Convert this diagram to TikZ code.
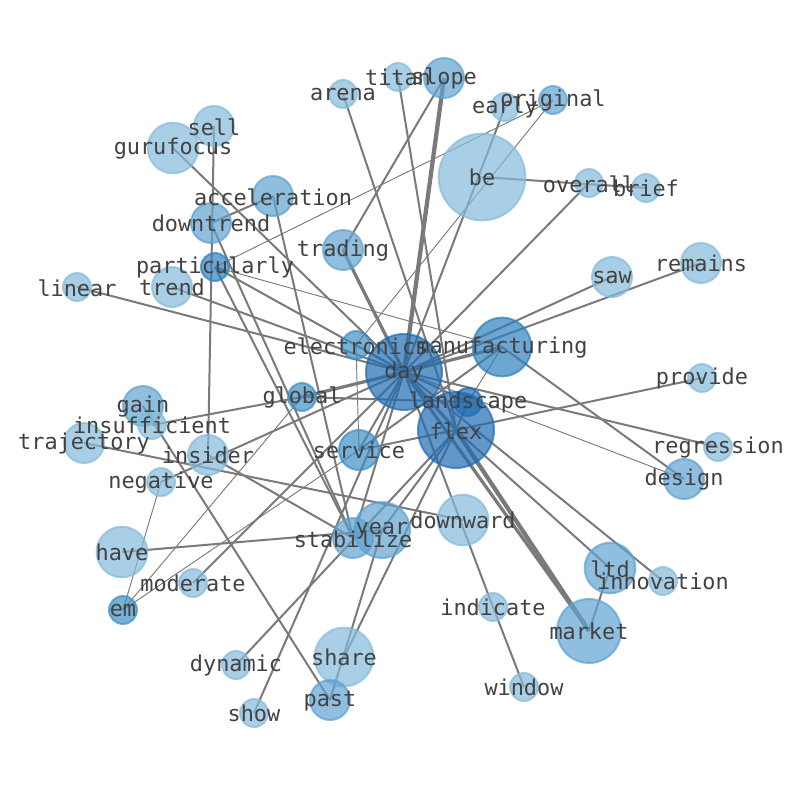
\documentclass[tikz,border=0pt]{standalone}
\usepackage{fontspec}
\setmonofont{DejaVu Sans Mono}
\definecolor{b1}{RGB}{133,186,219}
\definecolor{b2}{RGB}{95,162,208}
\definecolor{b3}{RGB}{62,142,196}
\definecolor{b4}{RGB}{45,128,189}
\definecolor{b5}{RGB}{32,108,178}
\pgfdeclarelayer{edges}
\pgfsetlayers{edges,main}

\begin{document}
\begin{tikzpicture}
  [x=.75pt,y=-.75pt,
   word/.style={circle,inner sep=0pt,line width=1.5pt,fill opacity=.7,draw opacity=.7},
   c1/.style={word,fill=b1,draw=b1},
   c2/.style={word,fill=b2,draw=b2},
   c3/.style={word,fill=b3,draw=b3},
   c4/.style={word,fill=b4,draw=b4},
   c5/.style={word,fill=b5,draw=b5},
   r14/.style={minimum size=21pt},
   r20/.style={minimum size=30pt},
   r25/.style={minimum size=38pt},
   r28/.style={minimum size=42pt},
   r29/.style={minimum size=44pt},
   r32/.style={minimum size=48pt},
   r38/.style={minimum size=57pt},
   r43/.style={minimum size=65pt},
   lbl/.style={font=\ttfamily\fontsize{16.4}{19}\selectfont,text=black!74,inner sep=0pt,yshift=-.6pt},
   link/.style={draw=black!52,line width=1.5pt},
   thin/.style={draw=black!52,line width=.7pt},
   thick/.style={draw=black!52,line width=2.4pt},
   heavy/.style={draw=black!52,line width=3.2pt}]
  \useasboundingbox (0,0) rectangle (794,790);

  \node[c1,r14] (titan) at (398,77) {};
  \node[c2,r20] (slope) at (444,78) {};
  \node[c1,r14] (arena) at (343,94) {};
  \node[c1,r14] (early) at (505,107) {};
  \node[c2,r14] (original) at (553,100) {};
  \node[c1,r20] (sell) at (214,126) {};
  \node[c1,r25] (gurufocus) at (173,148) {};
  \node[c1,r43] (be) at (482,177) {};
  \node[c1,r14] (overall) at (589,183) {};
  \node[c1,r14] (brief) at (646,188) {};
  \node[c2,r20] (acceleration) at (273,196) {};
  \node[c2,r20] (downtrend) at (211,223) {};
  \node[c2,r20] (trading) at (343,250) {};
  \node[c4,r14] (particularly) at (215,267) {};
  \node[c1,r14] (linear) at (77,287) {};
  \node[c1,r20] (trend) at (172,287) {};
  \node[c1,r20] (saw) at (612,277) {};
  \node[c1,r20] (remains) at (701,263) {};
  \node[c3,r14] (electronics) at (356,345) {};
  \node[c5,r38] (day) at (404,372) {};
  \node[c4,r29] (manufacturing) at (502,347) {};
  \node[c3,r14] (global) at (302,397) {};
  \node[c1,r14] (provide) at (702,378) {};
  \node[c5,r38] (flex) at (456,430) {};
  \node[c5,r14] (landscape) at (468,402) {};
  \node[c2,r20] (gain) at (143,406) {};
  \node[c1,r14] (insufficient) at (152,425) {};
  \node[c1,r20] (trajectory) at (84,443) {};
  \node[c1,r20] (insider) at (208,455) {};
  \node[c3,r20] (service) at (359,450) {};
  \node[c1,r14] (regression) at (718,447) {};
  \node[c2,r20] (design) at (684,479) {};
  \node[c1,r14] (negative) at (161,482) {};
  \node[c1,r25] (downward) at (463,520) {};
  \node[c2,r20] (stabilize) at (353,538) {};
  \node[c2,r28] (year) at (382,530) {};
  \node[c1,r25] (have) at (122,552) {};
  \node[c2,r25] (ltd) at (610,568) {};
  \node[c1,r14] (innovation) at (663,581) {};
  \node[c1,r14] (moderate) at (193,583) {};
  \node[c3,r14] (em) at (123,610) {};
  \node[c1,r14] (indicate) at (493,607) {};
  \node[c2,r32] (market) at (589,631) {};
  \node[c1,r29] (share) at (344,657) {};
  \node[c1,r14] (dynamic) at (236,665) {};
  \node[c2,r20] (past) at (330,700) {};
  \node[c1,r14] (window) at (524,687) {};
  \node[c1,r14] (show) at (254,713) {};

  \begin{pgfonlayer}{edges}
  \foreach \from/\to in {be/brief,overall/day,saw/day,remains/day,provide/flex,
      regression/day,manufacturing/design,titan/flex,arena/flex,slope/trading,
      early/day,sell/insider,gurufocus/day,acceleration/stabilize,
      acceleration/downtrend,downtrend/stabilize,particularly/stabilize,
      linear/day,trend/day,insufficient/global,trajectory/downward,
      insider/stabilize,negative/day,have/year,moderate/day,dynamic/flex,
      show/day,gain/past,past/year,share/flex,day/indicate,indicate/window,
      ltd/market,flex/ltd,day/innovation,electronics/day,service/day,
      service/flex,manufacturing/service,year/flex,stabilize/day,
      particularly/day,landscape/day,landscape/flex,global/landscape}
    \draw[link] (\from.center) -- (\to.center);
  \foreach \from/\to in {original/particularly,original/electronics,
      particularly/manufacturing,day/design,em/negative,em/global,em/service,
      electronics/service,manufacturing/landscape,particularly/electronics}
    \draw[thin] (\from.center) -- (\to.center);
  \foreach \from/\to in {trading/day,global/day,manufacturing/day,day/market,day/flex}
    \draw[thick] (\from.center) -- (\to.center);
  \foreach \from/\to in {slope/day,flex/market}
    \draw[heavy] (\from.center) -- (\to.center);
  \end{pgfonlayer}

  \foreach \w in {titan,slope,arena,early,original,sell,gurufocus,be,overall,
      brief,acceleration,downtrend,trading,particularly,linear,trend,saw,
      remains,electronics,day,manufacturing,global,provide,flex,landscape,
      gain,insufficient,trajectory,insider,service,regression,design,negative,
      downward,stabilize,year,have,ltd,innovation,moderate,em,indicate,market,
      share,dynamic,past,window,show}
    \node[lbl] at (\w) {\w};
\end{tikzpicture}
\end{document}
